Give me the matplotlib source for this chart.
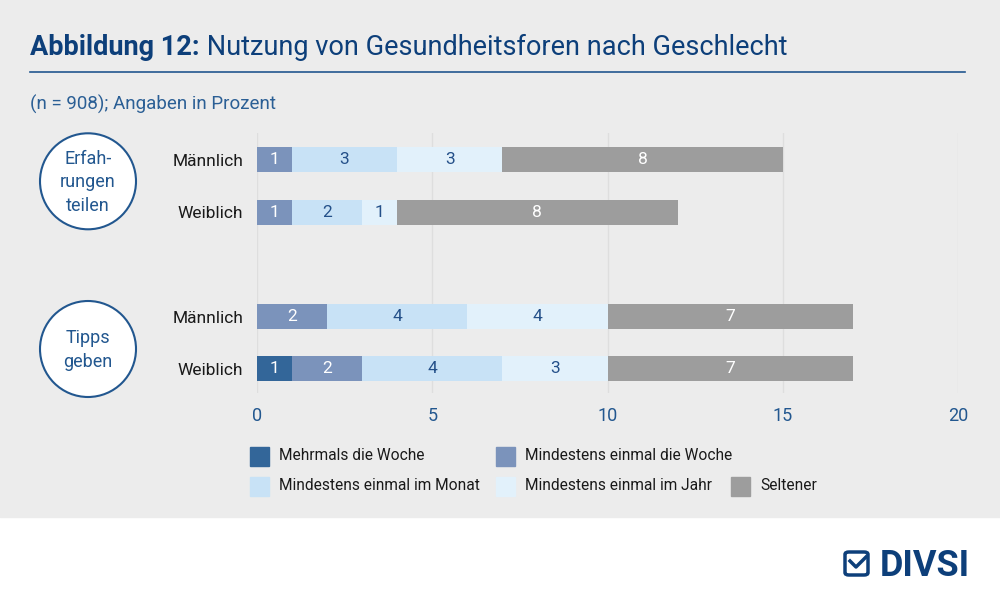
import matplotlib
matplotlib.use('Agg')
import matplotlib.pyplot as plt
from matplotlib.patches import Rectangle, Ellipse, FancyBboxPatch
from matplotlib.lines import Line2D

plt.rcParams['font.family'] = ['Roboto', 'DejaVu Sans']

# data
rows = ['Männlich', 'Weiblich', 'Männlich', 'Weiblich']
row_pos = [0, 1, 3, 4]
groups = ['Erfah-\nrungen\nteilen', 'Tipps\ngeben']
series_names = ['Mehrmals die Woche', 'Mindestens einmal die Woche', 'Mindestens einmal im Monat',
                'Mindestens einmal im Jahr', 'Seltener']
mehrmals = [0, 0, 0, 1]
woche = [1, 1, 2, 2]
monat = [3, 2, 4, 4]
jahr = [3, 1, 4, 3]
seltener = [8, 8, 7, 7]
ticks = [0, 5, 10, 15, 20]

colors = ['#336699', '#7b93bb', '#c8e2f6', '#e2f1fb', '#9d9d9d']
label_colors = ['white', 'white', '#245089', '#245089', 'white']
navy = '#0d3f7a'
blue = '#22578f'
bg = '#ececec'

W, H = 1000, 599


def fx(x):
    return x / W


def fy(y):
    return 1 - y / H


fig = plt.figure(figsize=(10, 5.99), dpi=100)
fig.patch.set_facecolor('white')
fig.add_artist(Rectangle((0, fy(517)), 1, 517 / H, transform=fig.transFigure, color=bg, zorder=0))

# title
t1 = fig.text(fx(30), fy(55), 'Abbildung 12:', fontsize=19.5, fontweight='bold', color=navy, va='baseline')
fig.add_artist(plt.Annotation(' Nutzung von Gesundheitsforen nach Geschlecht', xy=(1, 0), xycoords=t1,
                              va='bottom', ha='left', fontsize=19.5, color=navy))
fig.add_artist(Line2D([fx(30), fx(965)], [fy(71.5), fy(71.5)], transform=fig.transFigure, color=blue, lw=1.2))
fig.text(fx(30), fy(110), '(n = 908); Angaben in Prozent', fontsize=13.5, color='#2b5f95', va='baseline')

# axes
ax = fig.add_axes([fx(257), fy(393), 701 / W, 260.3 / H])
ax.set_facecolor(bg)
ax.set_xlim(0, 20)
ax.set_ylim(4.46, -0.52)
for s in ax.spines.values():
    s.set_visible(False)
ax.set_xticks(ticks)
ax.tick_params(axis='x', length=0, labelsize=13, labelcolor=blue, pad=10)
ax.xaxis.grid(True, color='#dedede', lw=1)
ax.set_axisbelow(True)
ax.set_yticks(row_pos)
ax.set_yticklabels(rows)
ax.tick_params(axis='y', length=0, labelsize=12.5, labelcolor='#1a1a1a', pad=10)

series = [mehrmals, woche, monat, jahr, seltener]
left = [0] * len(rows)
for vals, c, lc in zip(series, colors, label_colors):
    bars = ax.barh(row_pos, vals, left=left, height=0.478, color=c, edgecolor=c, lw=0)
    for b, v in zip(bars, vals):
        if v > 0:
            ax.text(b.get_x() + b.get_width() / 2, b.get_y() + b.get_height() / 2, str(v),
                    ha='center', va='center', color=lc, fontsize=12.5)
    left = [l + v for l, v in zip(left, vals)]

# group circles
for g, cy in zip(groups, [181.3, 349]):
    fig.add_artist(Ellipse((fx(88), fy(cy)), 96 / W, 96 / H, transform=fig.transFigure, facecolor='white',
                           edgecolor=blue, lw=1.5))
    fig.text(fx(88), fy(cy + 1), g, ha='center', va='center', fontsize=13, color=blue, linespacing=1.4)

# legend
leg_pos = [(250, 456), (496, 456), (250, 486), (496, 486), (731, 486)]
for (lx, ly), name, c in zip(leg_pos, series_names, colors):
    fig.add_artist(Rectangle((fx(lx), fy(ly + 9.5)), 19 / W, 19 / H, transform=fig.transFigure, color=c))
    fig.text(fx(lx + 29), fy(ly), name, fontsize=11.2, color='#1a1a1a', va='center')

# logo
fig.add_artist(FancyBboxPatch((fx(845), fy(575)), 23 / W, 23 / H, boxstyle='round,pad=0,rounding_size=0.004',
                              transform=fig.transFigure, facecolor='none', edgecolor=navy, lw=2.5))
fig.add_artist(Line2D([fx(850), fx(856), fx(866)], [fy(561), fy(567), fy(557)], transform=fig.transFigure,
                      color=navy, lw=2.5))
fig.text(fx(880), fy(576.5), 'DIVSI', fontsize=26, fontweight='bold', color=navy, va='baseline')

fig.savefig('out.png', dpi=100, facecolor=fig.get_facecolor())
